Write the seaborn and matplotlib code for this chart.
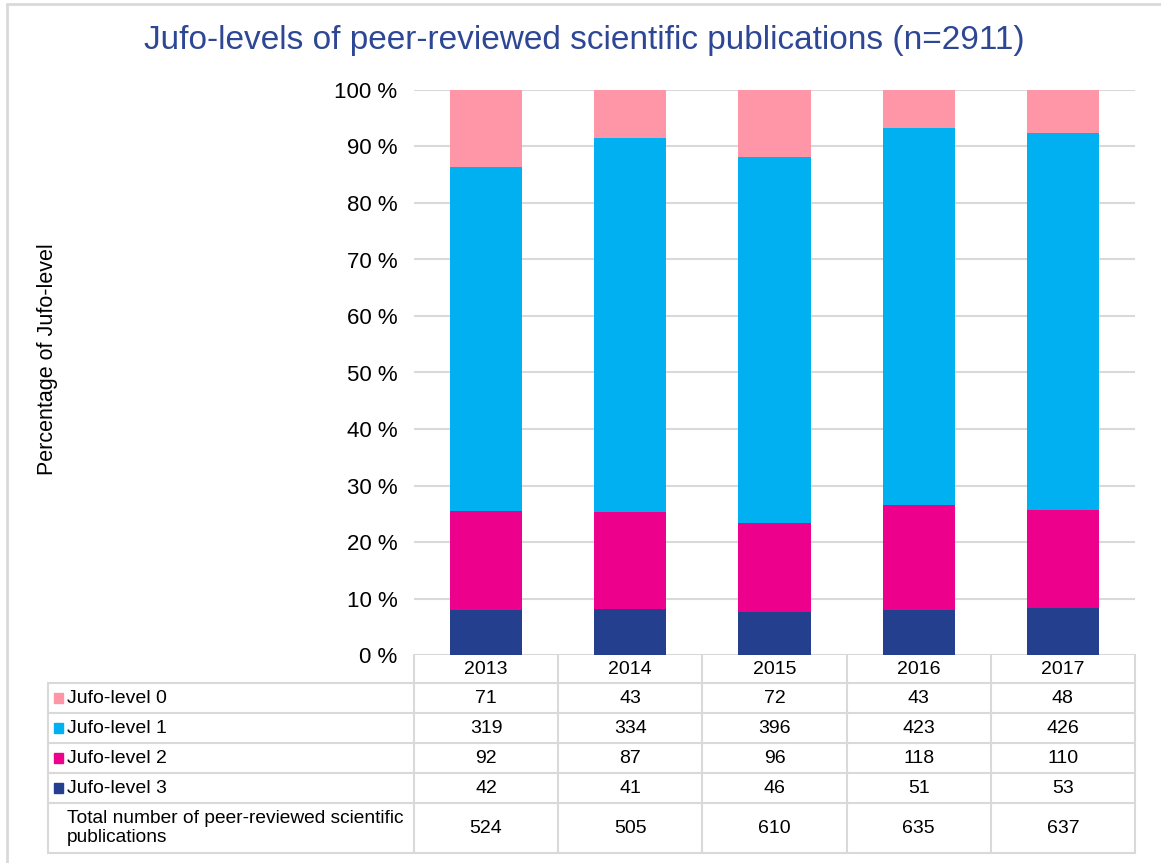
import numpy as np
import pandas as pd
import seaborn as sns
import matplotlib.pyplot as plt
from matplotlib.transforms import blended_transform_factory
from matplotlib.lines import Line2D
from matplotlib.patches import Rectangle

years = ["2013", "2014", "2015", "2016", "2017"]
series_names = ["Jufo-level 0", "Jufo-level 1", "Jufo-level 2", "Jufo-level 3"]
level0 = [71, 43, 72, 43, 48]
level1 = [319, 334, 396, 423, 426]
level2 = [92, 87, 96, 118, 110]
level3 = [42, 41, 46, 51, 53]
totals = [524, 505, 610, 635, 637]
total_label = "Total number of peer-reviewed scientific\npublications"
colors = ["#FF96A8", "#00B0F0", "#EC008C", "#233F8D"]
title = "Jufo-levels of peer-reviewed scientific publications (n=2911)"
ylabel = "Percentage of Jufo-level"

sns.set_theme(style="white")
plt.rcParams["font.family"] = ["Liberation Sans", "DejaVu Sans"]

W, H = 1161, 863
fig = plt.figure(figsize=(W / 100, H / 100), dpi=100)

def fx(x):
    return x / W

def fy(y):
    return 1 - y / H

# bar axes in pixel-derived position
L, R, T, B = 414, 1135, 90, 655
ax = fig.add_axes([fx(L), fy(B), fx(R) - fx(L), fy(T) - fy(B)])

counts = np.array([level3, level2, level1, level0], dtype=float)  # bottom to top
pct = counts / counts.sum(axis=0) * 100
cum = np.cumsum(pct, axis=0)
stack_colors = [colors[3], colors[2], colors[1], colors[0]]

# draw cumulative tops from highest to lowest so lower segments overlay
for i in range(3, -1, -1):
    df = pd.DataFrame({"year": years, "value": cum[i]})
    sns.barplot(data=df, x="year", y="value", color=stack_colors[i],
                width=0.5, ax=ax, saturation=1, linewidth=0, zorder=3)

ax.set_xlim(-0.5, 4.5)
ax.set_ylim(0, 100)
ax.set_yticks(np.arange(0, 101, 10))
ax.set_yticklabels([f"{v} %" for v in range(0, 101, 10)], fontsize=16, color="black")
ax.set_xticks([])
ax.set_xlabel("")
ax.set_ylabel("")
ax.tick_params(axis="y", length=0, pad=12)
ax.yaxis.grid(True, color="#D9D9D9", linewidth=1.5, zorder=0)
ax.set_axisbelow(True)
for s in ax.spines.values():
    s.set_visible(False)
ax.patch.set_alpha(0)

# overlay axes in pixel coords for table and decorations
tab = fig.add_axes([0, 0, 1, 1], zorder=-1)
tab.set_xlim(0, W)
tab.set_ylim(H, 0)
tab.axis("off")

trans = blended_transform_factory(ax.transData, tab.transData)

grid_col = "#D9D9D9"
lw = 1.5
# outer figure border (top and left)
tab.add_line(Line2D([7, W], [4, 4], color="#D9D9D9", lw=2))
tab.add_line(Line2D([7, 7], [4, H], color="#D9D9D9", lw=2))

# table lines
row_y = [683, 713, 743, 773, 803, 853]
label_left = 48
for y in row_y:
    tab.add_line(Line2D([label_left, R], [y, y], color=grid_col, lw=lw))
tab.add_line(Line2D([label_left, label_left], [683, 853], color=grid_col, lw=lw))
for xb in np.arange(-0.5, 5.0, 1.0):
    ax.add_line(Line2D([xb, xb], [B, 853], color=grid_col, lw=lw,
                       transform=trans, clip_on=False))

fs = 14
# header years
for i, yr in enumerate(years):
    ax.text(i, 669, yr, transform=trans, ha="center", va="center",
            fontsize=fs, color="black", clip_on=False)

rows = [level0, level1, level2, level3]
centers = [698, 728, 758, 788]
for name, vals, col, yc in zip(series_names, rows, colors, centers):
    tab.add_patch(Rectangle((54, yc - 5), 9, 10, color=col))
    tab.text(67, yc, name, ha="left", va="center", fontsize=fs, color="black")
    for i, v in enumerate(vals):
        ax.text(i, yc, str(v), transform=trans, ha="center", va="center",
                fontsize=fs, color="black", clip_on=False)

tab.text(67, 828, total_label, ha="left", va="center", fontsize=13.8,
         color="black", linespacing=1.1)
for i, v in enumerate(totals):
    ax.text(i, 828, str(v), transform=trans, ha="center", va="center",
            fontsize=fs, color="black", clip_on=False)

# title and y label
tab.text(584, 41, title, ha="center", va="center", fontsize=24, color="#2E4795")
tab.text(48, 359, ylabel, ha="center", va="center", rotation=90,
         fontsize=15.5, color="black")

fig.savefig("out.png", dpi=100)
